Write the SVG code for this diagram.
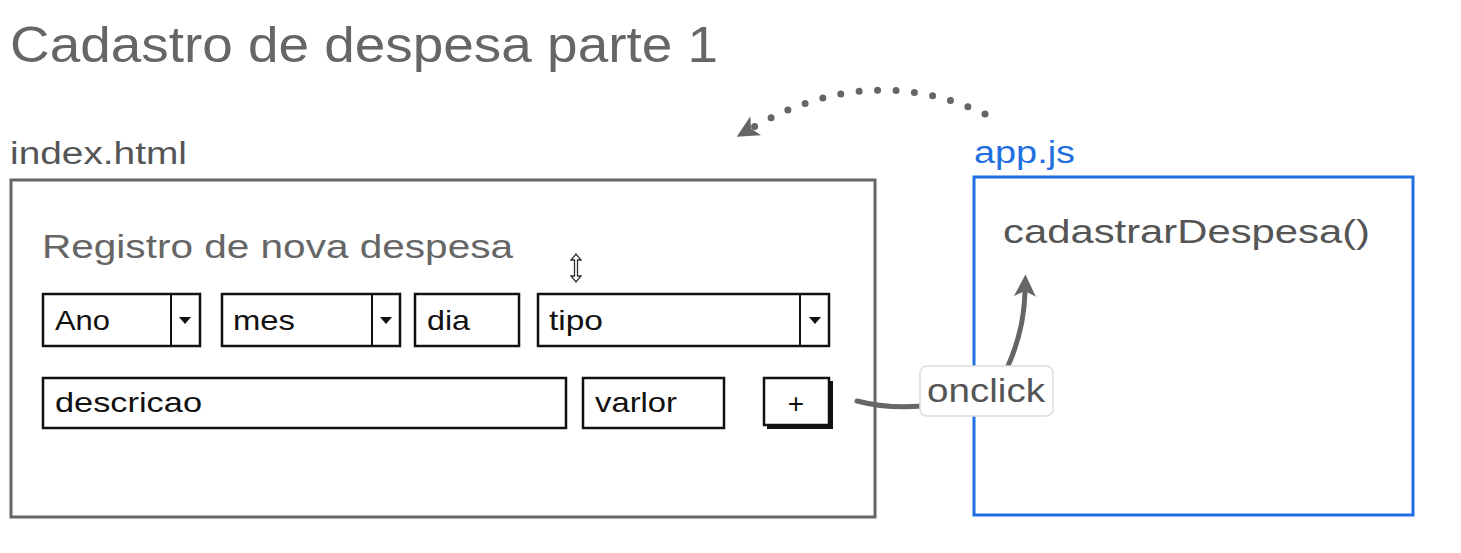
<svg xmlns="http://www.w3.org/2000/svg" width="1461" height="553" viewBox="0 0 1461 553">
<defs>
<style>
.t{font-family:"Liberation Sans","Open Sans",Arial,sans-serif;}
.title{font-size:50px;fill:#666;}
.lbl{font-size:31px;fill:#555;}
.w{font-size:28px;fill:#111;}
.box{fill:#fff;stroke:#111;stroke-width:2.5;}
.dd{fill:#111;}
.conn{fill:none;stroke:#666;stroke-width:5;stroke-linecap:round;}
</style>
<marker id="ah" viewBox="0 0 10 10" refX="2" refY="5" markerWidth="22" markerHeight="24" markerUnits="userSpaceOnUse" orient="auto">
<path d="M0,0 L10,5 L0,10 L2.5,5 z" fill="#666"/>
</marker>
</defs>
<rect width="1461" height="553" fill="#fff"/>
<text class="t title" x="10" y="62" textLength="708" lengthAdjust="spacingAndGlyphs">Cadastro de despesa parte 1</text>

<g id="index-html">
<text class="t lbl" x="10" y="164" textLength="177" lengthAdjust="spacingAndGlyphs">index.html</text>
<rect x="11" y="180" width="864" height="337" fill="#fff" stroke="#666" stroke-width="3"/>
<text class="t" x="42" y="258" font-size="33" fill="#666" textLength="471" lengthAdjust="spacingAndGlyphs">Registro de nova despesa</text>
</g>

<g id="ano">
<rect class="box" x="43" y="294" width="157" height="52"/>
<line x1="171" y1="294" x2="171" y2="346" stroke="#111" stroke-width="2"/>
<path class="dd" d="M179,317 h12 l-6,7 z"/>
<text class="t w" x="55" y="330" textLength="55" lengthAdjust="spacingAndGlyphs">Ano</text>
</g>
<g id="mes">
<rect class="box" x="222" y="294" width="178" height="52"/>
<line x1="372" y1="294" x2="372" y2="346" stroke="#111" stroke-width="2"/>
<path class="dd" d="M380,317 h12 l-6,7 z"/>
<text class="t w" x="233" y="330" textLength="62" lengthAdjust="spacingAndGlyphs">mes</text>
</g>
<g id="dia">
<rect class="box" x="415" y="294" width="104" height="52"/>
<text class="t w" x="427" y="330" textLength="43" lengthAdjust="spacingAndGlyphs">dia</text>
</g>
<g id="tipo">
<rect class="box" x="538" y="294" width="291" height="52"/>
<line x1="800" y1="294" x2="800" y2="346" stroke="#111" stroke-width="2"/>
<path class="dd" d="M809,317 h12 l-6,7 z"/>
<text class="t w" x="549" y="330" textLength="54" lengthAdjust="spacingAndGlyphs">tipo</text>
</g>
<g id="descricao">
<rect class="box" x="43" y="378" width="523" height="50"/>
<text class="t w" x="55" y="412" textLength="147" lengthAdjust="spacingAndGlyphs">descricao</text>
</g>
<g id="varlor">
<rect class="box" x="583" y="378" width="141" height="50"/>
<text class="t w" x="595" y="412" textLength="82" lengthAdjust="spacingAndGlyphs">varlor</text>
</g>
<g id="btn-add">
<rect x="767" y="381" width="66" height="48" fill="#111"/>
<rect class="box" x="764" y="378" width="65" height="47"/>
<text class="t w" x="796" y="413" text-anchor="middle">+</text>
</g>

<g id="cursor">
<path d="M576,254 l-5,6 h3.5 v16 h-3.5 l5,6 l5,-6 h-3.5 v-16 h3.5 z" fill="#fff" stroke="#333" stroke-width="1.3"/>
</g>

<g id="app-js">
<text class="t" x="974" y="163" font-size="31" fill="#1f6fe0" textLength="101" lengthAdjust="spacingAndGlyphs">app.js</text>
<rect x="974" y="177" width="439" height="338" fill="#fff" stroke="#1f6fe0" stroke-width="3"/>
<text class="t" x="1003" y="243" font-size="33" fill="#555" textLength="367" lengthAdjust="spacingAndGlyphs">cadastrarDespesa()</text>
</g>

<g id="connectors">
<path d="M985,114 Q870,60 752,128" fill="none" stroke="#666" stroke-width="7" stroke-linecap="round" stroke-dasharray="0 18.5" marker-end="url(#ah)"/>
<path class="conn" d="M857,401 Q888,409 922,406"/>
<path class="conn" d="M1008,366 Q1024,330 1025,292" marker-end="url(#ah)"/>
</g>

<g id="onclick-label">
<rect x="920" y="366" width="133" height="50" rx="7" fill="#fff" stroke="#ddd" stroke-width="1.5"/>
<text class="t" x="927" y="402" font-size="33" fill="#555" textLength="118" lengthAdjust="spacingAndGlyphs">onclick</text>
</g>
</svg>
